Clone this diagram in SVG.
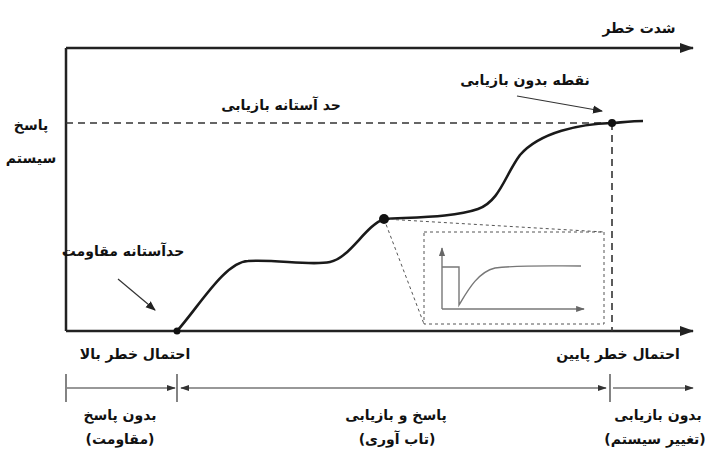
<svg xmlns="http://www.w3.org/2000/svg" width="705" height="456" viewBox="0 0 705 456">
<defs>
<marker id="ah" viewBox="0 0 10 10" refX="9" refY="5" markerWidth="10" markerHeight="10" markerUnits="userSpaceOnUse" orient="auto"><path d="M0,1 L10,5 L0,9 Z" fill="#222"/></marker>
<marker id="big" viewBox="0 0 14 12" refX="13" refY="6" markerWidth="14" markerHeight="12" markerUnits="userSpaceOnUse" orient="auto"><path d="M0,1 L14,6 L0,11 Z" fill="#222"/></marker>
<marker id="sm" viewBox="0 0 10 8" refX="9" refY="4" markerWidth="9" markerHeight="8" markerUnits="userSpaceOnUse" orient="auto-start-reverse"><path d="M0,0.5 L10,4 L0,7.5 Z" fill="#333"/></marker>
<marker id="gr" viewBox="0 0 10 8" refX="9" refY="4" markerWidth="9" markerHeight="7" markerUnits="userSpaceOnUse" orient="auto"><path d="M0,0.5 L10,4 L0,7.5 Z" fill="#666"/></marker>
</defs>
<style>
text{font-family:"DejaVu Sans","Noto Sans",sans-serif;font-size:14px;font-weight:bold;fill:#111;text-anchor:middle;direction:rtl}
.ax{stroke:#222;stroke-width:2.5;fill:none}
.dash{stroke:#333;stroke-width:1.6;stroke-dasharray:7,5;fill:none}
.dot{stroke:#555;stroke-width:1;stroke-dasharray:3,3;fill:none}
.curve{stroke:#1a1a1a;stroke-width:2.6;fill:none}
.thin{stroke:#333;stroke-width:1.2;fill:none}
.gray{stroke:#777;stroke-width:1.4;fill:none}
</style>
<rect width="705" height="456" fill="#fff"/>
<g id="axes">
<path class="ax" d="M66,48 L693,48" marker-end="url(#big)"/>
<path class="ax" d="M66,48 L66,331"/>
<path class="ax" d="M66,331 L693,331" marker-end="url(#big)"/>
</g>
<g id="connectors">
<path class="dash" d="M66,123 L612,123"/>
<path class="dash" d="M612,123 L612,331"/>
<path class="curve" d="M177,331 C200,305 225,262 248,261 C275,259 310,266 330,262 C350,258 365,226 384,219 C420,217 455,217 478,209 C500,201 505,175 520,155 C540,132 580,124 612,123 C625,122 635,121 643,121"/>
<path class="dot" d="M384,219 L604,232 M384,219 L424,324"/>
<path class="thin" stroke-width="1.6" d="M517,96 L602,111" marker-end="url(#ah)"/>
<path class="thin" stroke-width="1.6" d="M118,279 L155,310" marker-end="url(#ah)"/>
<path class="thin" d="M66,374 L66,402 M177,374 L177,402 M610,374 L610,402"/>
<path class="thin" d="M67,388 L175,388" marker-end="url(#sm)"/>
<path class="thin" d="M181,388 L606,388" marker-start="url(#sm)" marker-end="url(#sm)"/>
<path class="thin" d="M613,388 L693,388" marker-end="url(#sm)"/>
</g>
<g id="points">
<circle cx="177" cy="331" r="3.5" fill="#111"/>
<circle cx="384" cy="219" r="5" fill="#111"/>
<circle cx="612" cy="123" r="4" fill="#111"/>
</g>
<g id="inset">
<rect x="424" y="232" width="180" height="92" class="dot"/>
<path class="gray" d="M442,309 L442,248" marker-end="url(#gr)"/>
<path class="gray" d="M442,309 L584,309" marker-end="url(#gr)"/>
<path class="gray" d="M442,267 L459,267 L459,305 C468,290 478,272 495,268 C520,265 550,266 581,266"/>
</g>
<g id="labels">
<text x="639" y="33" font-size="16">شدت خطر</text>
<text x="525" y="85">نقطه بدون بازیابی</text>
<text x="281" y="110" font-size="16">حد آستانه بازیابی</text>
<text x="31" y="130">پاسخ</text>
<text x="31" y="163">سیستم</text>
<text x="123" y="256" font-size="15">حدآستانه مقاومت</text>
<text x="135" y="359" font-size="15">احتمال خطر بالا</text>
<text x="618" y="359" font-size="15">احتمال خطر پایین</text>
<text x="120" y="420" font-size="15">بدون پاسخ</text>
<text x="120" y="444">(مقاومت)</text>
<text x="396" y="420">پاسخ و بازیابی</text>
<text x="397" y="444">(تاب آوری)</text>
<text x="658" y="420">بدون بازیابی</text>
<text x="655" y="444">(تغییر سیستم)</text>
</g>
</svg>
